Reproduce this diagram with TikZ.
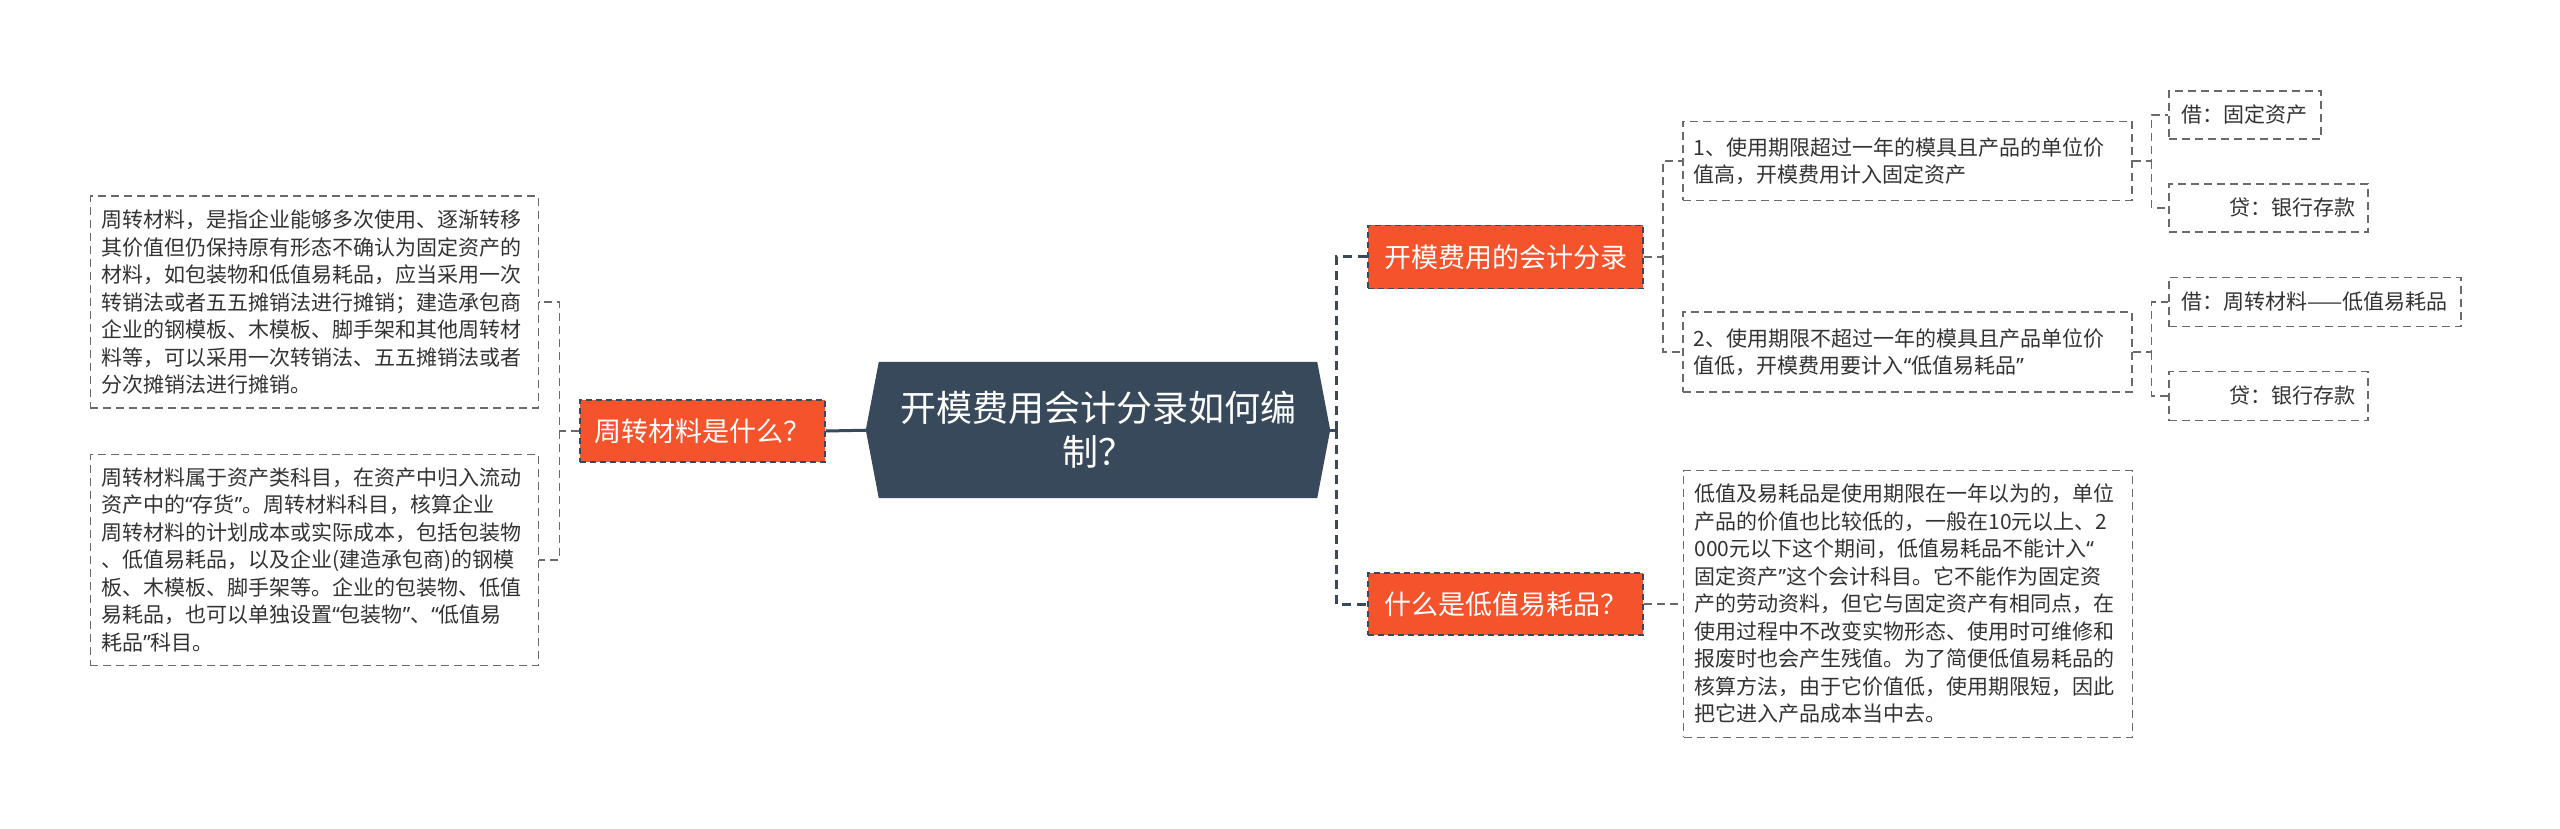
\documentclass[tikz,border=0pt]{standalone}
\usepackage{fontspec}
\setmainfont{Noto Sans CJK SC}
\newfontfamily\qfont{Noto Sans}
\usetikzlibrary{positioning, backgrounds, calc}

\definecolor{rootfill}{HTML}{37495A}
\definecolor{topicred}{HTML}{F4532B}
\definecolor{linegray}{HTML}{6A6A6A}
\definecolor{txtgray}{HTML}{333333}

\newcommand{\oq}{{\qfont “}}
\newcommand{\cq}{{\qfont ”}}

\tikzset{
  topic/.style={fill=topicred, draw=rootfill, line width=1.5pt, dash pattern=on 6pt off 4pt,
    text=white, font=\fontsize{27}{32}\selectfont, minimum height=63pt, inner xsep=10pt},
  leaf/.style={draw=linegray, line width=1.5pt, dash pattern=on 8pt off 5pt, text=txtgray,
    font=\fontsize{21}{27.5}\selectfont, align=left, inner xsep=11pt, inner ysep=13.5pt},
  trunk/.style={draw=rootfill, line width=3pt},
  trunkdash/.style={trunk, dash pattern=on 9pt off 6pt},
  twig/.style={draw=linegray, line width=1.5pt, dash pattern=on 8pt off 5pt},
}

\begin{document}
\begin{tikzpicture}[x=1pt, y=-1pt]
  \useasboundingbox (0,0) rectangle (2560,829);

  % central topic
  \node (root) [text=white, font=\fontsize{36}{44}\selectfont, align=center,
    minimum width=438pt, minimum height=136pt] at (1098,430) {开模费用会计分录如何编\\制^^^^ff1f};
  \begin{scope}[on background layer]
    \fill[white] (0,0) rectangle (2560,829);
    \fill[rootfill] (root.north west) -- (root.north east) -- ([xshift=13pt]root.east)
      -- (root.south east) -- (root.south west) -- ([xshift=-13pt]root.west) -- cycle;
  \end{scope}

  % main branches
  \node (redL) [topic, minimum width=245pt, minimum height=62pt] at (702.5,431) {周转材料是什么^^^^ff1f};
  \node (redA) [topic, minimum width=275pt] at (1505.5,257) {开模费用的会计分录};
  \node (redB) [topic, minimum width=275pt, minimum height=62pt] at (1505.5,604) {什么是低值易耗品^^^^ff1f};

  % left side
  \node (defA) [leaf, text width=426pt, anchor=east] at (539,302) {周转材料^^^^ff0c是指企业能够多次使用、逐渐转移\\其价值但仍保持原有形态不确认为固定资产的\\材料^^^^ff0c如包装物和低值易耗品^^^^ff0c应当采用一次\\转销法或者五五摊销法进行摊销^^^^ff1b建造承包商\\企业的钢模板、木模板、脚手架和其他周转材\\料等^^^^ff0c可以采用一次转销法、五五摊销法或者\\分次摊销法进行摊销。};
  \node (defB) [leaf, text width=426pt, anchor=east] at (539,560) {周转材料属于资产类科目^^^^ff0c在资产中归入流动\\资产中的\oq 存货\cq 。周转材料科目^^^^ff0c核算企业\\周转材料的计划成本或实际成本^^^^ff0c包括包装物\\、低值易耗品^^^^ff0c以及企业(建造承包商)的钢模\\板、木模板、脚手架等。企业的包装物、低值\\易耗品^^^^ff0c也可以单独设置\oq 包装物\cq 、\oq 低值易\\耗品\cq 科目。};

  % right side
  \node (entryA) [leaf, text width=427pt, minimum height=79pt, anchor=west] at (1682,161) {1、使用期限超过一年的模具且产品的单位价\\值高^^^^ff0c开模费用计入固定资产};
  \node (entryB) [leaf, text width=427pt, minimum height=80pt, anchor=west] at (1682,352) {2、使用期限不超过一年的模具且产品单位价\\值低^^^^ff0c开模费用要计入\oq 低值易耗品\cq};
  \node (lvInfo) [leaf, text width=427pt, anchor=west, right=39pt of redB] {低值及易耗品是使用期限在一年以为的^^^^ff0c单位\\产品的价值也比较低的^^^^ff0c一般在10元以上、2\\000元以下这个期间^^^^ff0c低值易耗品不能计入\oq\\固定资产\cq 这个会计科目。它不能作为固定资\\产的劳动资料^^^^ff0c但它与固定资产有相同点^^^^ff0c在\\使用过程中不改变实物形态、使用时可维修和\\报废时也会产生残值。为了简便低值易耗品的\\核算方法^^^^ff0c由于它价值低^^^^ff0c使用期限短^^^^ff0c因此\\把它进入产品成本当中去。};

  \node (debitA) [leaf, inner xsep=13pt, minimum height=48pt, inner ysep=6pt, anchor=west] at (2168,115) {借^^^^ff1a固定资产};
  \node (creditA) [leaf, text width=175pt, align=right, inner xsep=12pt, minimum height=48pt, inner ysep=6pt, anchor=west] at (2168,208) {贷^^^^ff1a银行存款};
  \node (debitB) [leaf, inner xsep=13pt, minimum height=49pt, inner ysep=6pt, anchor=west] at (2168,302) {借^^^^ff1a周转材料——低值易耗品};
  \node (creditB) [leaf, text width=175pt, align=right, inner xsep=12pt, minimum height=49pt, inner ysep=6pt, anchor=west] at (2168,396) {贷^^^^ff1a银行存款};

  % connectors
  \draw[trunk] (root.west) -- (redL.east);
  \coordinate (lj) at ($(redL.west)+(-20,0)$);
  \draw[twig] (redL.west) -- (lj) |- (defA.east);
  \draw[twig] (lj) |- (defB.east);

  \coordinate (rj) at ($(root.east)+(19,0)$);
  \draw[trunk] (root.east) -- (rj);
  \draw[trunkdash] (rj) |- (redA.west);
  \draw[trunkdash] (rj) |- (redB.west);

  \coordinate (aj) at ($(redA.east)+(19,0)$);
  \draw[twig] (redA.east) -- (aj) |- (entryA.west);
  \draw[twig] (aj) |- (entryB.west);

  \coordinate (ej) at ($(entryA.east)+(19,0)$);
  \draw[twig] (entryA.east) -- (ej) |- (debitA.west);
  \draw[twig] (ej) |- (creditA.west);

  \coordinate (fj) at ($(entryB.east)+(19,0)$);
  \draw[twig] (entryB.east) -- (fj) |- (debitB.west);
  \draw[twig] (fj) |- (creditB.west);

  \draw[twig] (redB.east) -- (lvInfo.west);
\end{tikzpicture}
\end{document}
